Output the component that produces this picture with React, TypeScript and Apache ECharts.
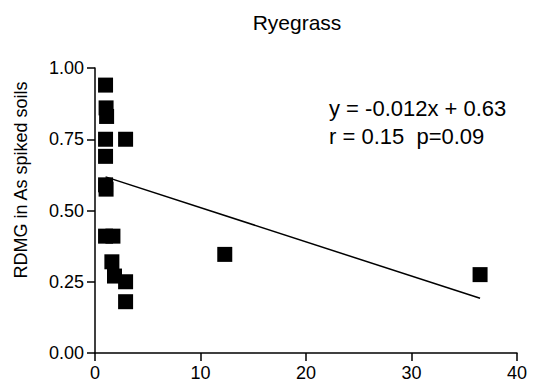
import React, { useEffect, useRef } from "react";
import * as echarts from "echarts";

const title = "Ryegrass";
const yAxisName = "RDMG in As spiked soils";
const xValues = [1.0, 1.05, 1.1, 1.0, 2.9, 1.0, 1.0, 1.05, 1.0, 1.7, 1.6, 1.85, 2.9, 2.9, 12.3, 36.5];
const yValues = [0.94, 0.86, 0.83, 0.75, 0.75, 0.69, 0.59, 0.575, 0.41, 0.41, 0.32, 0.27, 0.25, 0.18, 0.346, 0.275];
const fitSlope = -0.012;
const fitIntercept = 0.63;
const fitRange = [1.0, 36.5];
const eqLabel = "y = -0.012x + 0.63";
const statLabel = "r = 0.15  p=0.09";

export default function App() {
  const ref = useRef<HTMLDivElement>(null);
  useEffect(() => {
    if (!ref.current) return;
    const chart = echarts.init(ref.current, null, { renderer: "svg" });
    const font = "Liberation Sans, Arial, sans-serif";
    const points = xValues.map((x, i) => [x, yValues[i]]);
    const fit = fitRange.map((x) => [x, fitIntercept + fitSlope * x]);
    chart.setOption({
      animation: false,
      backgroundColor: "#fff",
      grid: { left: 95, right: 17, top: 68, bottom: 33 },
      xAxis: {
        type: "value",
        min: 0,
        max: 40,
        interval: 10,
        splitLine: { show: false },
        axisLine: { show: true, lineStyle: { color: "#000", width: 1.5 } },
        axisTick: { show: true, length: 8, lineStyle: { color: "#000", width: 1.5 } },
        axisLabel: { color: "#000", fontFamily: font, fontSize: 18, margin: 11 },
      },
      yAxis: {
        type: "value",
        min: 0,
        max: 1,
        interval: 0.25,
        splitLine: { show: false },
        axisLine: { show: true, lineStyle: { color: "#000", width: 1.5 } },
        axisTick: { show: true, length: 8, lineStyle: { color: "#000", width: 1.5 } },
        axisLabel: {
          color: "#000",
          fontFamily: font,
          fontSize: 18,
          margin: 11,
          formatter: (v: number) => v.toFixed(2),
        },
      },
      series: [
        {
          type: "scatter",
          data: points,
          symbol: "rect",
          symbolSize: 15,
          itemStyle: { color: "#000", opacity: 1 },
        },
        {
          type: "line",
          data: fit,
          symbol: "none",
          lineStyle: { color: "#000", width: 1.5 },
        },
      ],
      graphic: [
        {
          type: "text",
          x: 297,
          y: 12,
          style: {
            text: title,
            fontFamily: font,
            fontSize: 21,
            fill: "#000",
            textAlign: "center",
            textVerticalAlign: "top",
          },
        },
        {
          type: "text",
          x: 21,
          y: 180,
          rotation: Math.PI / 2,
          style: {
            text: yAxisName,
            fontFamily: font,
            fontSize: 18,
            fill: "#000",
            textAlign: "center",
            textVerticalAlign: "middle",
          },
        },
        {
          type: "text",
          left: 329,
          top: 97,
          style: { text: eqLabel, fontFamily: font, fontSize: 22, fill: "#000" },
        },
        {
          type: "text",
          left: 329,
          top: 125,
          style: { text: statLabel, fontFamily: font, fontSize: 22, fill: "#000" },
        },
      ],
    });
    return () => chart.dispose();
  }, []);
  return <div ref={ref} style={{ width: 534, height: 386, position: "absolute", left: 0, top: 0 }} />;
}
